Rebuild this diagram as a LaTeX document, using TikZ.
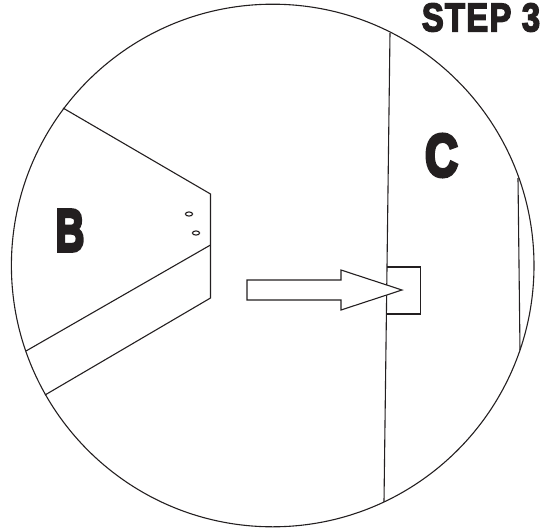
\documentclass[tikz,border=0pt]{standalone}
\usepackage{fontspec}
\setmainfont[FakeBold=4]{Liberation Sans Bold}
\newfontfamily\stepfont[FakeBold=4,LetterSpace=4]{Liberation Sans Bold}
\newfontfamily\bigfont[FakeBold=6]{Liberation Sans Bold}
\definecolor{ink}{HTML}{231F20}
\tikzset{
  part/.style={draw=ink,line width=1.1pt,line join=miter},
  hole/.style={draw=ink,line width=1.1pt,fill=white},
  letter/.style={text=ink,inner sep=0pt,anchor=center}
}
\begin{document}
\begin{tikzpicture}[x=1pt,y=-1pt]
\useasboundingbox (0,0) rectangle (542,531);
% detail circle
\draw[part] (272.7,265.5) circle[radius=261.3];
% part C
\draw[part] (390,33) -- (384,502);
\draw[part] (518,178) -- (520,350);
\draw[part] (387,267) -- (420.5,267) -- (420.5,314) -- (387,314);
% part B
\draw[part] (63,108) -- (210.5,194) -- (210.5,298) -- (45,395);
\draw[part] (210.5,245) -- (26,351);
\draw[hole] (189,214) ellipse[x radius=3.6,y radius=2.1];
\draw[hole] (196,233) ellipse[x radius=3.6,y radius=2.1];
% arrow
\draw[part,fill=white] (247,280) -- (341,280) -- (341,270) -- (402,290) -- (341,310) -- (341,300) -- (247,300) -- cycle;
% labels
\node[letter,xscale=.82] (step) at (481,17.5) {\stepfont\fontsize{40}{40}\selectfont STEP 3};
\node[letter,xscale=.66] (b) at (70,230.5) {\bigfont\fontsize{60}{60}\selectfont B};
\node[letter,xscale=.76] (c) at (441.5,155.5) {\bigfont\fontsize{60}{60}\selectfont C};
\end{tikzpicture}
\end{document}
